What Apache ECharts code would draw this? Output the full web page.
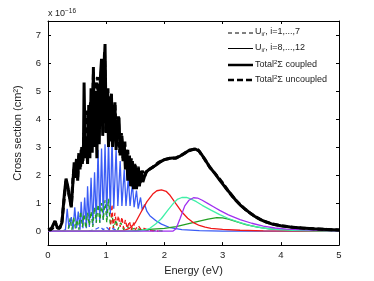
<!DOCTYPE html>
<html><head><meta charset="utf-8">
<script src="https://cdn.jsdelivr.net/npm/echarts@6/dist/echarts.min.js"></script>
<style>html,body{margin:0;padding:0;background:#fff}#c{width:374px;height:281px}</style>
</head><body><div id="c"></div>
<script>
// ---- tick labels ----
const xTicks = [0, 1, 2, 3, 4, 5];
const yTicks = [0, 1, 2, 3, 4, 5, 6, 7];

// ---- U_ii' i=8..12 (blue, oscillating) ----
const blueE = [0,0.25,0.30,0.33,0.36,0.40,0.43,0.46,0.49,0.52,0.55,0.57,0.60,0.63,0.66,0.68,0.71,0.74,0.77,0.80,0.83,0.86,0.89,0.92,0.95,0.98,1.01,1.04,1.07,1.10,1.13,1.17,1.20,1.24,1.27,1.31,1.34,1.38,1.41,1.45,1.48,1.52,1.55,1.59,1.62,1.66,1.70,1.75,1.85,1.95,2.1,2.3,2.6,3.0,5.0];
const blueV = [0,0,0.05,0.8,0.1,0.5,0.05,0.85,0.1,0.7,0.05,1.05,0.1,1.2,0.1,1.6,0.15,1.9,0.2,2.1,0.3,2.9,0.3,2.95,0.4,3.1,0.5,3.25,0.6,3.3,0.8,2.9,0.9,2.5,0.9,2.2,0.9,1.9,0.9,1.7,0.85,1.45,0.8,1.2,0.75,0.95,0.7,0.55,0.38,0.25,0.12,0.05,0.02,0,0];

// ---- U_ii' i=1..7 (dashed: green, red, blue) ----
const greenDashE = [0,0.30,0.35,0.38,0.41,0.44,0.47,0.50,0.53,0.56,0.59,0.62,0.65,0.68,0.71,0.74,0.77,0.80,0.83,0.86,0.89,0.92,0.95,0.98,1.01,1.04,1.07,1.10,1.13,1.17,1.20,1.25,1.30,1.35,1.40,1.5,1.6,1.8,2.0];
const greenDashV = [0,0,0.1,0.45,0.05,0.5,0.1,0.4,0.05,0.7,0.15,0.6,0.1,0.65,0.2,0.7,0.15,0.85,0.3,0.95,0.3,1.0,0.4,1.1,0.3,1.15,0.2,0.6,0.1,0.4,0.05,0.3,0.05,0.2,0.05,0.1,0.05,0.02,0];
const redDashE = [1.05,1.08,1.10,1.12,1.15,1.18,1.21,1.24,1.27,1.30,1.33,1.36,1.40,1.43,1.47,1.50,1.55,1.60,1.65,1.75,1.9];
const redDashV = [0,0.3,0.95,0.1,0.65,0.2,0.55,0.15,0.5,0.1,0.4,0.1,0.35,0.05,0.3,0.05,0.2,0.05,0.1,0.02,0];
const blueDashE = [0.7,0.8,0.9,0.95,1.0,1.05,1.1,1.2];
const blueDashV = [0,0.05,0.15,0.05,0.15,0.05,0.1,0];

// ---- smooth U_ii' components ----
const redE = [0,1.2,1.3,1.4,1.5,1.6,1.7,1.8,1.87,1.95,2.03,2.1,2.2,2.3,2.4,2.5,2.6,2.7,2.8,3.0,3.3,3.7,5];
const redV = [0,0,0.02,0.1,0.3,0.68,1.05,1.32,1.44,1.47,1.42,1.27,0.97,0.68,0.46,0.3,0.2,0.14,0.1,0.06,0.03,0.01,0];
const cyanE = [0,1.55,1.65,1.75,1.85,1.95,2.05,2.15,2.22,2.3,2.38,2.46,2.55,2.65,2.8,2.95,3.1,3.3,3.5,3.7,3.9,4.2,4.6,5];
const cyanV = [0,0,0.03,0.1,0.25,0.45,0.72,0.98,1.13,1.2,1.2,1.14,1.05,0.92,0.75,0.59,0.45,0.3,0.19,0.11,0.06,0.03,0.01,0];
const purpleE = [0,2.15,2.2,2.27,2.35,2.42,2.5,2.57,2.65,2.75,2.85,2.95,3.1,3.3,3.5,3.7,3.9,4.1,4.4,4.8,5];
const purpleV = [0,0,0.08,0.45,0.9,1.1,1.19,1.18,1.1,0.98,0.86,0.74,0.58,0.41,0.28,0.18,0.11,0.07,0.04,0.02,0.01];
const greenE = [0,1.4,1.6,1.8,2.0,2.2,2.4,2.6,2.75,2.9,3.0,3.1,3.25,3.4,3.6,3.8,4.0,4.3,4.7,5];
const greenV = [0,0,0.03,0.07,0.1,0.16,0.26,0.36,0.43,0.48,0.47,0.43,0.33,0.23,0.14,0.08,0.05,0.02,0.01,0];

// ---- Total 2Σ coupled ----
const coupledE = [0,0.05,0.08,0.12,0.16,0.20,0.24,0.28,0.31,0.34,0.37,0.40,0.43,0.45,0.47,0.49,0.51,0.53,0.55,0.57,0.59,0.61,0.62,0.64,0.66,0.68,0.70,0.72,0.74,0.76,0.78,0.80,0.82,0.84,0.86,0.88,0.90,0.92,0.94,0.96,0.98,1.00,1.02,1.04,1.06,1.09,1.11,1.13,1.15,1.17,1.19,1.22,1.24,1.27,1.29,1.31,1.33,1.35,1.37,1.40,1.42,1.45,1.47,1.50,1.52,1.55,1.57,1.60,1.63,1.68,1.75,1.85,1.92,2.0,2.1,2.2,2.27,2.35,2.44,2.53,2.6,2.7,2.78,2.87,2.95,3.05,3.13,3.22,3.3,3.4,3.47,3.55,3.64,3.75,3.87,4.0,4.16,4.35,4.56,4.78,5.0];
const coupledV = [0.05,0.05,0.1,0.36,0.12,0.1,0.3,1.3,1.87,1.6,1.2,0.85,1.8,2.45,1.9,2.55,1.8,2.7,2.2,2.9,2.4,3.1,5.3,2.6,3.3,2.4,4.5,2.6,5.1,2.8,5.86,3.0,5.0,2.6,5.2,3.1,5.5,6.15,3.4,5.6,6.68,3.5,5.0,3.0,4.5,4.9,3.0,4.0,4.6,2.9,3.8,4.05,2.7,3.4,2.5,3.1,2.2,2.9,1.8,2.7,1.6,2.5,1.5,2.35,1.5,2.25,1.6,2.15,1.75,2.1,2.22,2.35,2.46,2.55,2.6,2.62,2.68,2.78,2.9,2.93,2.85,2.55,2.28,2.05,1.82,1.55,1.35,1.12,0.94,0.76,0.65,0.53,0.42,0.32,0.24,0.19,0.15,0.11,0.08,0.06,0.04];

// ---- Total 2Σ uncoupled ----
const uncoupledE = [0,0.08,0.12,0.16,0.2,0.24,0.28,0.31,0.34,0.37,0.40,0.43,0.45,0.47,0.49,0.51,0.53,0.56,0.58,0.60,0.62,0.64,0.66,0.68,0.70,0.73,0.75,0.78,0.80,0.83,0.85,0.87,0.90,0.93,0.95,0.97,1.00,1.03,1.05,1.08,1.10,1.13,1.15,1.18,1.21,1.23,1.26,1.29,1.32,1.34,1.37,1.40,1.43,1.46,1.49,1.52,1.55,1.58,1.62,1.66,1.70,1.8,1.9,2.0,2.1,2.2,2.3,2.4,2.5,2.58,2.68,2.78,2.9,3.0,3.1,3.2,3.3,3.4,3.5,3.6,3.7,3.85,4.0,4.2,4.4,4.6,4.8,5.0];
const uncoupledV = [0.05,0.1,0.34,0.12,0.1,0.35,1.2,1.8,1.75,1.2,0.9,1.9,2.3,2.0,2.6,1.9,2.8,2.3,3.0,2.5,3.5,3.2,3.8,4.3,3.0,4.6,3.0,5.6,3.2,5.2,5.5,3.2,5.3,6.0,3.5,6.4,3.8,5.1,3.2,4.8,3.2,4.1,4.5,3.0,4.1,2.8,3.5,2.6,3.2,2.4,2.9,1.9,2.6,1.6,2.4,1.55,2.3,1.7,2.15,1.95,2.15,2.28,2.45,2.55,2.6,2.6,2.72,2.85,2.92,2.9,2.6,2.28,1.98,1.72,1.42,1.16,0.95,0.76,0.6,0.47,0.36,0.26,0.19,0.14,0.1,0.08,0.06,0.04];

const pairs = (xs, ys) => xs.map((x, i) => [x, ys[i]]);
const FONT = 'Liberation Sans';
const TXT = '#222';
function thin(name, xs, ys, color, dash) {
  return { type: 'line', name, data: pairs(xs, ys), showSymbol: false, symbol: 'none',
    lineStyle: { color, width: 1.3, type: dash ? [4, 3] : 'solid' }, z: 2 };
}
const richStyles = {
  n: { fontSize: 9, fontFamily: FONT, fill: TXT, verticalAlign: 'middle', lineHeight: 11 },
  b: { fontSize: 6, fontFamily: FONT, fill: TXT, verticalAlign: 'bottom', lineHeight: 11 },
  s: { fontSize: 6, fontFamily: FONT, fill: TXT, verticalAlign: 'top', lineHeight: 11 }
};
function legText(y, text) {
  return { type: 'text', x: 255, y, style: { text, rich: richStyles, verticalAlign: 'middle', align: 'left' } };
}

const chart = echarts.init(document.getElementById('c'), null, { renderer: 'canvas' });
const axisCommon = {
  type: 'value', splitLine: { show: false },
  axisLine: { show: true, onZero: false, lineStyle: { color: '#000', width: 1 } },
};
chart.setOption({
  animation: false,
  backgroundColor: '#fff',
  grid: { left: 48, right: 35, top: 21, bottom: 32 },
  xAxis: [
    Object.assign({}, axisCommon, { min: 0, max: 5, interval: 1, position: 'bottom',
      axisTick: { inside: true, length: 3, lineStyle: { color: '#000' } },
      axisLabel: { color: TXT, fontSize: 9.5, fontFamily: FONT, margin: 5 },
      name: 'Energy (eV)', nameLocation: 'middle', nameGap: 16,
      nameTextStyle: { color: TXT, fontSize: 11, fontFamily: FONT } }),
    Object.assign({}, axisCommon, { min: 0, max: 5, interval: 1, position: 'top',
      axisTick: { inside: true, length: 3, lineStyle: { color: '#000' } },
      axisLabel: { show: false } })
  ],
  yAxis: [
    Object.assign({}, axisCommon, { min: -0.5, max: 7.5, position: 'left',
      axisTick: { inside: true, length: 3, customValues: yTicks, lineStyle: { color: '#000' } },
      axisLabel: { color: TXT, fontSize: 9.5, fontFamily: FONT, margin: 7, customValues: yTicks },
      name: 'Cross section (cm\u00b2)', nameLocation: 'middle', nameGap: 25, nameRotate: 90,
      nameTextStyle: { color: TXT, fontSize: 11, fontFamily: FONT } }),
    Object.assign({}, axisCommon, { min: -0.5, max: 7.5, position: 'right',
      axisTick: { inside: true, length: 3, customValues: yTicks, lineStyle: { color: '#000' } },
      axisLabel: { show: false, customValues: yTicks } })
  ],
  series: [
    thin('blue', blueE, blueV, '#3a5cf5', false),
    thin('greenDash', greenDashE, greenDashV, '#22a022', true),
    thin('redDash', redDashE, redDashV, '#f01818', true),
    thin('blueDash', blueDashE, blueDashV, '#3a5cf5', true),
    thin('green', greenE, greenV, '#22a022', false),
    thin('red', redE, redV, '#f01818', false),
    thin('cyan', cyanE, cyanV, '#40f0a8', false),
    thin('purple', purpleE, purpleV, '#a030f0', false),
    { type: 'line', name: 'coupled', data: pairs(coupledE, coupledV), showSymbol: false, symbol: 'none',
      lineStyle: { color: '#000', width: 3 }, z: 4 },
    { type: 'line', name: 'uncoupled', data: pairs(uncoupledE, uncoupledV), showSymbol: false, symbol: 'none',
      lineStyle: { color: '#000', width: 3, type: [6, 3] }, z: 5 }
  ],
  graphic: [
    { type: 'text', x: 48, y: 14, style: { text: '{n|x 10}{s|\u221216}', verticalAlign: 'middle', align: 'left',
      rich: { n: { fontSize: 9, fontFamily: FONT, fill: TXT, verticalAlign: 'middle', lineHeight: 12 },
              s: { fontSize: 6.5, fontFamily: FONT, fill: TXT, verticalAlign: 'top', lineHeight: 12 } } } },
    // legend lines
    { type: 'line', shape: { x1: 228, y1: 33, x2: 253, y2: 33 }, style: { stroke: '#000', lineWidth: 1, lineDash: [4, 3] } },
    { type: 'line', shape: { x1: 228, y1: 48.5, x2: 253, y2: 48.5 }, style: { stroke: '#000', lineWidth: 1 } },
    { type: 'line', shape: { x1: 228, y1: 65, x2: 253, y2: 65 }, style: { stroke: '#000', lineWidth: 2.5 } },
    { type: 'line', shape: { x1: 228, y1: 80, x2: 253, y2: 80 }, style: { stroke: '#000', lineWidth: 2.5, lineDash: [6, 3] } },
    legText(32, "{n|U}{b|ii'}{n|, i=1,...,7}"),
    legText(47.5, "{n|U}{b|ii'}{n|, i=8,...,12}"),
    legText(65, "{n|Total}{s|2}{n|\u03a3 coupled}"),
    legText(80, "{n|Total}{s|2}{n|\u03a3 uncoupled}")
  ]
});
</script></body></html>
